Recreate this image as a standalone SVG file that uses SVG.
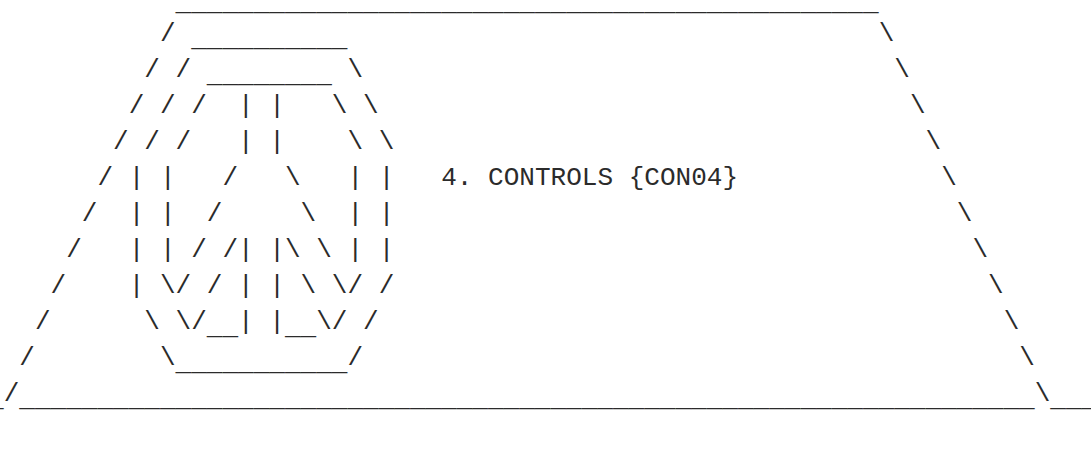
<svg xmlns="http://www.w3.org/2000/svg" width="1091" height="472" viewBox="0 0 1091 472" xml:space="preserve">
<style>
  text { font-family: "Liberation Mono", "DejaVu Sans Mono", monospace; font-size: 26.04px; fill: #2b2b2b; white-space: pre; }
  .u { baseline-shift: -5px; }
</style>
<rect x="0" y="0" width="1091" height="472" fill="#ffffff"/>
<g id="frame">
  <text x="175.6" y="10">_____________________________________________</text>
  <text x="-11.9" y="401"><tspan dy="5">_</tspan><tspan dy="-5">/</tspan><tspan dy="5">_________________________________________________________________</tspan><tspan dy="-5">\</tspan><tspan dy="5">___</tspan></text>
  <text x="878.725" y="41">\</text>
  <text x="894.35" y="77">\</text>
  <text x="909.975" y="113">\</text>
  <text x="925.6" y="149">\</text>
  <text x="941.225" y="185">\</text>
  <text x="956.85" y="221">\</text>
  <text x="972.475" y="257">\</text>
  <text x="988.1" y="293">\</text>
  <text x="1003.725" y="329">\</text>
  <text x="1019.35" y="365">\</text>
</g>
<g id="icon">
  <text x="159.975" y="41">/ <tspan dy="5">__________</tspan></text>
  <text x="144.35" y="77">/ / <tspan dy="5">________</tspan><tspan dy="-5"> \</tspan></text>
  <text x="128.725" y="113">/ / /  | |   \ \</text>
  <text x="113.1" y="149">/ / /   | |    \ \</text>
  <text x="97.475" y="185">/ | |   /   \   | |</text>
  <text x="81.85" y="221">/  | |  /     \  | |</text>
  <text x="66.225" y="257">/   | | / /| |\ \ | |</text>
  <text x="50.6" y="293">/    | \/ / | | \ \/ /</text>
  <text x="34.975" y="329">/      \ \/<tspan dy="5">__</tspan><tspan dy="-5">| |</tspan><tspan dy="5">__</tspan><tspan dy="-5">\/ /</tspan></text>
  <text x="19.35" y="365">/        \<tspan dy="5">___________</tspan><tspan dy="-5">/</tspan></text>
</g>
<g id="label">
  <text x="441.225" y="185">4. CONTROLS {CON04}</text>
</g>
</svg>
